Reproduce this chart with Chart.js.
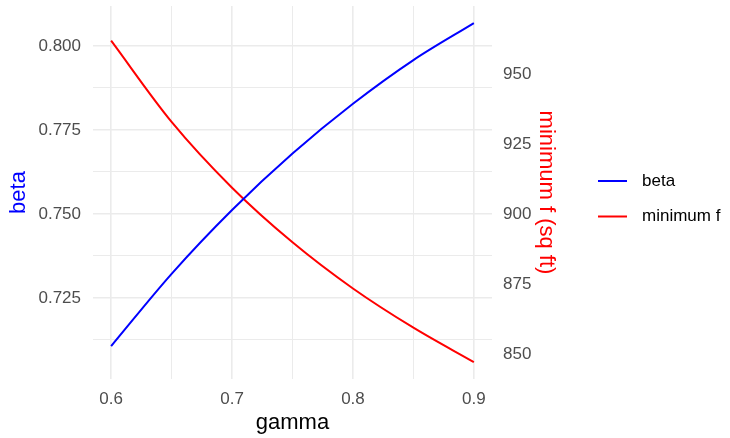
<!DOCTYPE html>
<html>
<head>
<meta charset="utf-8">
<script src="https://cdn.jsdelivr.net/npm/chart.js@4/dist/chart.umd.min.js"></script>
<style>
    body { margin: 0; background: #ffffff; }
    canvas { display: block; }
</style>
</head>
<body>
<canvas id="gammaChart" width="730" height="438"></canvas>
<script>
const gammaValues = [0.6, 0.65, 0.7, 0.75, 0.8, 0.85, 0.9];
const betaValues = [0.7107, 0.7322, 0.7512, 0.768, 0.7828, 0.7958, 0.8068];
const minFValues = [961.9, 932.9, 909.4, 889.9, 873.4, 859.4, 847.1];

const gammaTicks = [0.6, 0.65, 0.7, 0.75, 0.8, 0.85, 0.9];
const gammaLabels = [0.6, 0.7, 0.8, 0.9];
const betaTicks = [0.7125, 0.725, 0.7375, 0.75, 0.7625, 0.775, 0.7875, 0.8];
const betaLabels = [0.725, 0.75, 0.775, 0.8];
const minFTicks = [850, 875, 900, 925, 950];

const FONT = "'Liberation Sans', Arial, sans-serif";
const GRID = "#ebebeb";
const TICK_COLOR = "#4d4d4d";

const isLabel = (list, v) => list.some((l) => Math.abs(l - v) < 1e-9);

const setTicks = (list) => (scale) => {
    scale.ticks = list.map((v) => ({ value: v }));
};

// ggplot-style legend on the right
const legendPlugin = {
    id: "sideLegend",

    afterDraw(chart) {
        const ctx = chart.ctx;

        ctx.save();
        ctx.font = "17px " + FONT;
        ctx.textBaseline = "middle";

        chart.data.datasets.forEach((ds, i) => {
            const y = 181 + i * 35.5;

            ctx.strokeStyle = ds.borderColor;
            ctx.lineWidth = 2;
            ctx.beginPath();
            ctx.moveTo(598, y);
            ctx.lineTo(627, y);
            ctx.stroke();

            ctx.fillStyle = "#000000";
            ctx.fillText(ds.label, 642, y);
        });

        ctx.restore();
    },
};

new Chart(document.getElementById("gammaChart"), {
    type: "line",

    data: {
        datasets: [
            {
                label: "beta",
                data: gammaValues.map((g, i) => ({ x: g, y: betaValues[i] })),
                borderColor: "#0000ff",
                borderWidth: 2,
                pointRadius: 0,
                cubicInterpolationMode: "monotone",
                yAxisID: "y",
            },
            {
                label: "minimum f",
                data: gammaValues.map((g, i) => ({ x: g, y: minFValues[i] })),
                borderColor: "#ff0000",
                borderWidth: 2,
                pointRadius: 0,
                cubicInterpolationMode: "monotone",
                yAxisID: "y1",
            },
        ],
    },

    options: {
        responsive: false,
        animation: false,

        layout: {
            padding: { top: 6, right: 167, bottom: 0, left: 0 },
        },

        plugins: {
            legend: { display: false },
            tooltip: { enabled: false },
        },

        scales: {
            x: {
                type: "linear",
                min: 0.585,
                max: 0.915,
                afterBuildTicks: setTicks(gammaTicks),

                afterFit: (scale) => {
                    scale.height = 59;
                    scale.paddingLeft = 0;
                    scale.paddingRight = 0;
                },

                border: { display: false },

                grid: {
                    color: GRID,
                    drawTicks: false,
                    lineWidth: (c) => (isLabel(gammaLabels, c.tick.value) ? 1.6 : 1),
                },

                ticks: {
                    padding: 10,
                    color: TICK_COLOR,
                    font: { family: FONT, size: 17 },
                    maxRotation: 0,
                    callback: (v) => (isLabel(gammaLabels, v) ? v.toFixed(1) : ""),
                },

                title: {
                    display: true,
                    text: "gamma",
                    color: "#000000",
                    font: { family: FONT, size: 22 },
                    padding: { top: 0, bottom: 2 },
                },
            },

            y: {
                position: "left",
                min: 0.70089,
                max: 0.8119,
                afterBuildTicks: setTicks(betaTicks),

                afterFit: (scale) => {
                    scale.width = 93;
                    scale.paddingTop = 0;
                    scale.paddingBottom = 0;
                },

                border: { display: false },

                grid: {
                    color: GRID,
                    drawTicks: false,
                    lineWidth: (c) => (isLabel(betaLabels, c.tick.value) ? 1.6 : 1),
                },

                ticks: {
                    padding: 12,
                    color: TICK_COLOR,
                    font: { family: FONT, size: 17 },
                    callback: (v) => (isLabel(betaLabels, v) ? v.toFixed(3) : ""),
                },

                title: {
                    display: true,
                    text: "beta",
                    color: "#0000ff",
                    font: { family: FONT, size: 22 },
                    padding: { top: 6, bottom: 0 },
                },
            },

            y1: {
                position: "right",
                min: 841.07,
                max: 974.28,
                afterBuildTicks: setTicks(minFTicks),

                afterFit: (scale) => {
                    scale.width = 71;
                    scale.paddingTop = 0;
                    scale.paddingBottom = 0;
                },

                border: { display: false },
                grid: { display: false, drawTicks: false },

                ticks: {
                    padding: 11,
                    color: TICK_COLOR,
                    font: { family: FONT, size: 17 },
                },

                title: {
                    display: true,
                    text: "minimum f (sq ft)",
                    color: "#ff0000",
                    font: { family: FONT, size: 22 },
                    padding: { top: 4, bottom: 0 },
                },
            },
        },
    },

    plugins: [legendPlugin],
});
</script>
</body>
</html>
